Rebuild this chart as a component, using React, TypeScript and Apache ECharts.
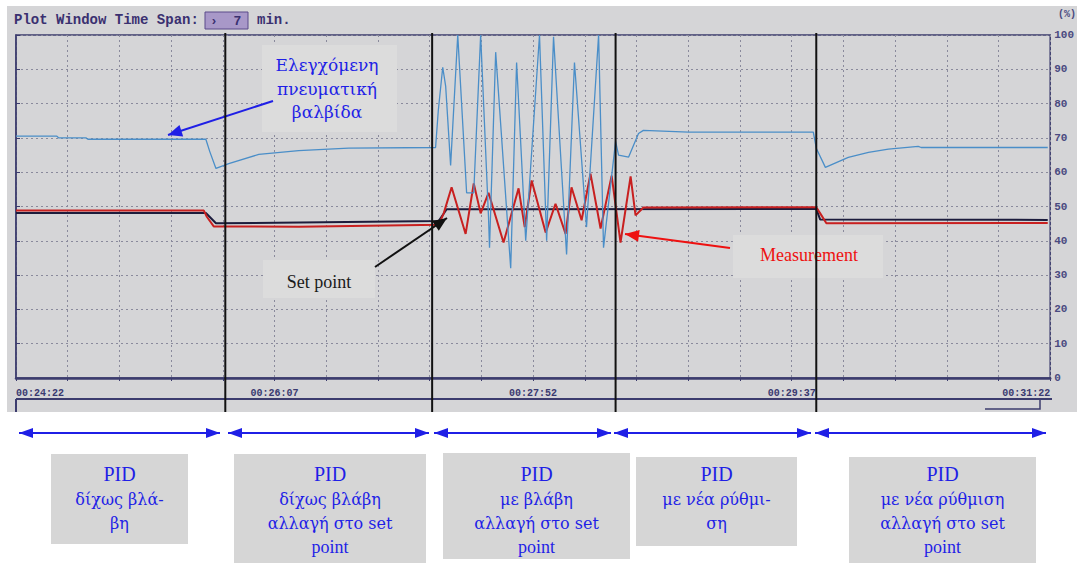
import React, { useEffect, useRef } from "react";
import * as echarts from "echarts";

// time in seconds since 00:24:22, values in %
const timeLabels = ["00:24:22", "00:26:07", "00:27:52", "00:29:37", "00:31:22"];
const phaseTimes = [85, 169, 243.5, 325];

const valve: number[][] = [
  [0, 70.5], [16.6, 70.5], [17.4, 70.0], [28.4, 70.0], [29.2, 69.6], [77.1, 69.6], [78.7, 66], [81.2, 61.1],
  [86.4, 62.5], [98.6, 65.2], [114.8, 66.3], [135.1, 67.0], [170.4, 67.2], [171.5, 78], [173.3, 90.6], [174.5, 85],
  [176.5, 62], [179.4, 100], [183.0, 54], [185.9, 54], [188.7, 100], [191.9, 46.8], [192.3, 38],
  [194.8, 95], [200.9, 32], [203.3, 92], [207.0, 40], [212.6, 100], [215.5, 40], [218.3, 99.5],
  [223.6, 36], [226.8, 92], [231.7, 44], [236.6, 100], [238.6, 38], [243.5, 69], [244.7, 65],
  [248.8, 64.4], [252.8, 71.3], [254.8, 72.2], [273.1, 71.7], [323.8, 71.7], [325.0, 67], [328.7, 61.4],
  [338.0, 64.3], [346.2, 65.8], [354.3, 66.7], [366.4, 67.5], [367.6, 67.2], [419, 67.2],
];

const measurement: number[][] = [
  [0, 48.8], [76.3, 48.8], [77.5, 47], [80.3, 44.2], [114.8, 44.1], [171.7, 44.7], [173.7, 48],
  [176.9, 55.6], [182.6, 42], [185.9, 56.7], [188.7, 48], [191.9, 54], [198.0, 39.5], [204.1, 55.3],
  [206.6, 44], [209.4, 57.6], [215.1, 42.4], [219.1, 50.8], [223.2, 42], [225.6, 55.6], [229.7, 46],
  [233.3, 59.6], [237.4, 43.6], [241.9, 59], [245.5, 39.5], [249.6, 58.8], [251.6, 47.4], [254.8, 49.7],
  [325.0, 49.8], [326.6, 48], [329.1, 45.1], [419, 45.2],
];

const setpoint: number[][] = [
  [0, 48.1], [77.1, 48.1], [81.2, 45.1], [171.7, 45.8], [174.9, 49.2], [325.0, 49.3], [326.6, 46.2], [419, 46.1],
];

const phaseBoxes = [
  { x: 51, y: 454, w: 137, h: 90, lines: ["δίχως βλά-", "βη"] },
  { x: 234, y: 454, w: 192, h: 109, lines: ["δίχως βλάβη", "αλλαγή στο set", "point"] },
  { x: 443, y: 453, w: 187, h: 106, lines: ["με βλάβη", "αλλαγή στο set", "point"] },
  { x: 636, y: 457, w: 161, h: 89, lines: ["με νέα ρύθμι-", "ση"] },
  { x: 849, y: 457, w: 187, h: 106, lines: ["με νέα ρύθμιση", "αλλαγή στο set", "point"] },
];
const phaseArrows = [[19, 220], [228, 429], [434, 611], [614, 811], [815, 1046]];

const SERIF = "Liberation Serif, Times New Roman, serif";
const GSERIF = "DejaVu Serif, Liberation Serif, serif";
const MONO = "Liberation Mono, DejaVu Sans Mono, monospace";
const BLUE = "#1f1fe6";

function head(tx: number, ty: number, fx: number, fy: number, len: number, hw: number, color: string) {
  const dx = tx - fx, dy = ty - fy;
  const d = Math.hypot(dx, dy);
  const ux = dx / d, uy = dy / d;
  const bx = tx - ux * len, by = ty - uy * len;
  return {
    type: "polygon",
    z: 12,
    shape: { points: [[tx, ty], [bx - uy * hw, by + ux * hw], [bx + uy * hw, by - ux * hw]] },
    style: { fill: color },
  };
}

function arrow(x1: number, y1: number, x2: number, y2: number, color: string, w: number, len: number, hw: number, both = false) {
  const els: any[] = [
    { type: "line", z: 12, shape: { x1, y1, x2, y2 }, style: { stroke: color, lineWidth: w } },
    head(x2, y2, x1, y1, len, hw, color),
  ];
  if (both) els.push(head(x1, y1, x2, y2, len, hw, color));
  return els;
}

function text(x: number, y: number, t: string, size: number, color: string, family = SERIF, weight = "normal", align = "center") {
  return {
    type: "text",
    z: 11,
    x,
    y,
    style: { text: t, fontSize: size, fontFamily: family, fontWeight: weight, fill: color, align, verticalAlign: "middle" },
  };
}

const isGreek = (s: string) => /[\u0370-\u03ff\u1f00-\u1fff]/.test(s);

export default function App() {
  const ref = useRef<HTMLDivElement>(null);
  useEffect(() => {
    if (!ref.current) return;
    const chart = echarts.init(ref.current, null, { renderer: "svg" });
    chart.setOption({
      animation: false,
      backgroundColor: "#ffffff",
      grid: { left: 16, right: 25, top: 35, bottom: 185, show: true, borderColor: "#3c3c6e", borderWidth: 1.5 },
      xAxis: {
        type: "value",
        min: 0,
        max: 420,
        interval: 21,
        axisLine: { show: true, lineStyle: { color: "#3c3c6e", width: 2.5 } },
        axisTick: { show: true, length: 3, lineStyle: { color: "#3c3c6e" } },
        splitLine: { show: true, lineStyle: { color: "#8a8a9c", type: [2, 3], width: 1 } },
        axisLabel: {
          margin: 10,
          fontSize: 10,
          fontFamily: MONO,
          fontWeight: "bold",
          color: "#3a3a70",
          alignMinLabel: "left",
          alignMaxLabel: "right",
          showMinLabel: true,
          showMaxLabel: true,
          formatter: (v: number) => {
            const r = Math.round(v);
            return r % 105 === 0 ? timeLabels[r / 105] : "";
          },
        },
      },
      yAxis: {
        type: "value",
        position: "right",
        min: 0,
        max: 100,
        interval: 10,
        axisLine: { show: true, lineStyle: { color: "#3c3c6e", width: 1.5 } },
        axisTick: { show: true, length: 4, lineStyle: { color: "#3c3c6e" } },
        splitLine: { show: true, lineStyle: { color: "#8a8a9c", type: [2, 3], width: 1 } },
        axisLabel: { margin: 4, fontSize: 11, fontFamily: MONO, fontWeight: "bold", color: "#4a4a80" },
      },
      series: [
        { type: "line", data: setpoint, showSymbol: false, z: 2, lineStyle: { color: "#1c1c3c", width: 2 } },
        { type: "line", data: measurement, showSymbol: false, z: 3, lineStyle: { color: "#c82020", width: 2 } },
        { type: "line", data: valve, showSymbol: false, z: 4, lineStyle: { color: "#4a8ec8", width: 1.3 } },
      ],
    });

    const g: any[] = [];
    g.push({ type: "rect", z: -100, shape: { x: 7, y: 6, width: 1070, height: 406 }, style: { fill: "#d5d5d7" } });
    // header
    g.push(text(14, 20, "Plot Window Time Span:", 14, "#3a3070", MONO, "bold", "left"));
    g.push({ type: "rect", z: 10, shape: { x: 205, y: 12, width: 43, height: 17 }, style: { fill: "#a898c8", stroke: "#5a4a8a", lineWidth: 1 } });
    g.push(text(210, 21, "›  7", 13, "#3a3070", MONO, "bold", "left"));
    g.push(text(257, 20, "min.", 14, "#3a3070", MONO, "bold", "left"));
    g.push(text(1058, 14, "(%)", 10, "#4a4a80", MONO, "bold", "left"));
    // bottom strip lines
    g.push({ type: "line", z: 5, shape: { x1: 16, y1: 399, x2: 1052, y2: 399 }, style: { stroke: "#3c3c6e", lineWidth: 2 } });
    g.push({ type: "line", z: 5, shape: { x1: 16, y1: 399, x2: 16, y2: 412 }, style: { stroke: "#3c3c6e", lineWidth: 2 } });
    g.push({ type: "polyline", z: 5, shape: { points: [[985, 409], [1040, 409], [1040, 400]] }, style: { stroke: "#3c3c6e", lineWidth: 1.5, fill: "none" } });

    // phase separation lines
    phaseTimes.forEach((t) => {
      const px = chart.convertToPixel({ xAxisIndex: 0 }, t) as number;
      g.push({ type: "line", z: 15, shape: { x1: px, y1: 33, x2: px, y2: 412 }, style: { stroke: "#111111", lineWidth: 2 } });
    });

    // valve annotation
    g.push({ type: "rect", z: 10, shape: { x: 262, y: 45, width: 135, height: 87 }, style: { fill: "#dcdcdc" } });
    g.push(text(327, 65, "Ελεγχόμενη", 17, BLUE, GSERIF));
    g.push(text(327, 89, "πνευματική", 17, BLUE, GSERIF));
    g.push(text(327, 112, "βαλβίδα", 17, BLUE, GSERIF));
    g.push(...arrow(273, 101, 168, 135, BLUE, 2, 14, 6));

    // set point annotation
    g.push({ type: "rect", z: 10, shape: { x: 263, y: 260, width: 112, height: 38 }, style: { fill: "#dcdcdc" } });
    g.push(text(319, 282, "Set point", 18, "#1a1a1a"));
    g.push(...arrow(375, 267, 447, 218, "#111111", 2, 14, 6));

    // measurement annotation
    g.push({ type: "rect", z: 10, shape: { x: 733, y: 235, width: 150, height: 43 }, style: { fill: "#dcdcdc" } });
    g.push(text(809, 255, "Measurement", 18, "#ee1111"));
    g.push(...arrow(730, 248, 625, 234, "#ee1111", 2, 14, 6));

    // bottom phase arrows and boxes
    phaseArrows.forEach(([a, b]) => g.push(...arrow(a, 433, b, 433, BLUE, 2, 14, 5, true)));
    phaseBoxes.forEach((bx) => {
      const cx = bx.x + bx.w / 2;
      g.push({ type: "rect", z: 10, shape: { x: bx.x, y: bx.y, width: bx.w, height: bx.h }, style: { fill: "#d6d6d6" } });
      g.push(text(cx, 474, "PID", 20, BLUE));
      bx.lines.forEach((l, i) => g.push(text(cx, 499 + i * 24, l, isGreek(l) ? 16 : 18, BLUE, isGreek(l) ? GSERIF : SERIF)));
    });

    chart.setOption({ graphic: g });
    return () => chart.dispose();
  }, []);
  return <div ref={ref} style={{ position: "fixed", left: 0, top: 0, width: 1077, height: 563 }} />;
}
